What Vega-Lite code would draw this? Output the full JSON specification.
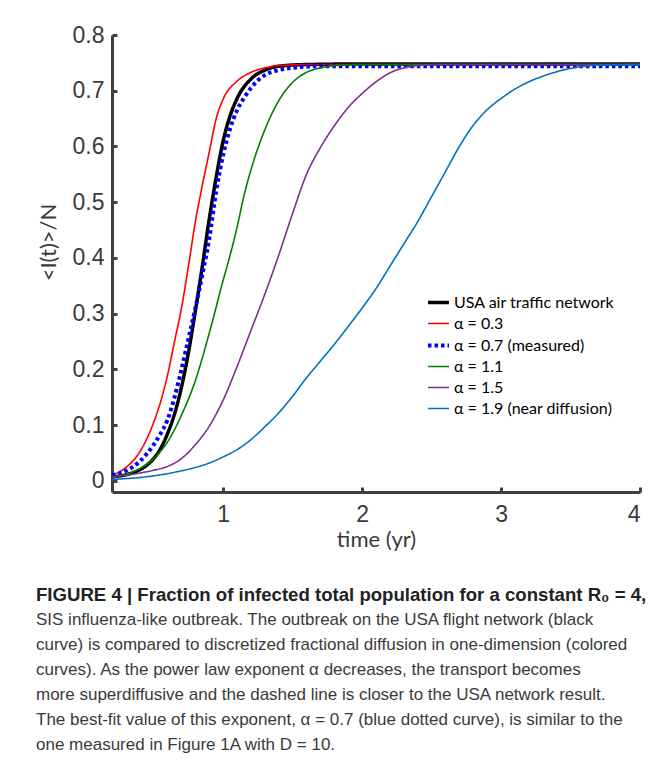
{
  "$schema": "https://vega.github.io/schema/vega-lite/v6.json",
  "width": 528,
  "height": 457,
  "autosize": {"type": "none"},
  "padding": {"left": 112, "top": 35, "right": 27, "bottom": 272},
  "background": "white",
  "config": {"view": {"stroke": null}},
  "title": {
    "text": "FIGURE 4 | Fraction of infected total population for a constant R₀ = 4,",
    "subtitle": [
      "SIS influenza-like outbreak. The outbreak on the USA flight network (black",
      "curve) is compared to discretized fractional diffusion in one-dimension (colored",
      "curves). As the power law exponent α decreases, the transport becomes",
      "more superdiffusive and the dashed line is closer to the USA network result.",
      "The best-fit value of this exponent, α = 0.7 (blue dotted curve), is similar to the",
      "one measured in Figure 1A with D = 10."
    ],
    "orient": "bottom",
    "anchor": "start",
    "frame": "group",
    "dx": -76,
    "offset": 36,
    "font": "Liberation Sans",
    "fontSize": 18.6,
    "fontWeight": "bold",
    "color": "#222222",
    "subtitleFont": "Liberation Sans",
    "subtitleFontSize": 17,
    "subtitleColor": "#3a3a3a",
    "subtitleLineHeight": 25,
    "subtitlePadding": 7
  },
  "data": {
    "values": [
      {"series": "USA air traffic network", "t": 0.2, "v": 0.007},
      {"series": "USA air traffic network", "t": 0.3, "v": 0.011},
      {"series": "USA air traffic network", "t": 0.4, "v": 0.02},
      {"series": "USA air traffic network", "t": 0.45, "v": 0.028},
      {"series": "USA air traffic network", "t": 0.5, "v": 0.04},
      {"series": "USA air traffic network", "t": 0.55, "v": 0.058},
      {"series": "USA air traffic network", "t": 0.6, "v": 0.085},
      {"series": "USA air traffic network", "t": 0.65, "v": 0.12},
      {"series": "USA air traffic network", "t": 0.7, "v": 0.168},
      {"series": "USA air traffic network", "t": 0.75, "v": 0.23},
      {"series": "USA air traffic network", "t": 0.8, "v": 0.305},
      {"series": "USA air traffic network", "t": 0.85, "v": 0.385},
      {"series": "USA air traffic network", "t": 0.9, "v": 0.47},
      {"series": "USA air traffic network", "t": 0.95, "v": 0.545},
      {"series": "USA air traffic network", "t": 1.0, "v": 0.61},
      {"series": "USA air traffic network", "t": 1.05, "v": 0.655},
      {"series": "USA air traffic network", "t": 1.1, "v": 0.686},
      {"series": "USA air traffic network", "t": 1.2, "v": 0.721},
      {"series": "USA air traffic network", "t": 1.3, "v": 0.737},
      {"series": "USA air traffic network", "t": 1.4, "v": 0.744},
      {"series": "USA air traffic network", "t": 1.6, "v": 0.747},
      {"series": "USA air traffic network", "t": 2.0, "v": 0.748},
      {"series": "USA air traffic network", "t": 3.0, "v": 0.748},
      {"series": "USA air traffic network", "t": 4.0, "v": 0.748},

      {"series": "α = 0.3", "t": 0.2, "v": 0.01},
      {"series": "α = 0.3", "t": 0.3, "v": 0.024},
      {"series": "α = 0.3", "t": 0.4, "v": 0.052},
      {"series": "α = 0.3", "t": 0.45, "v": 0.075},
      {"series": "α = 0.3", "t": 0.5, "v": 0.105},
      {"series": "α = 0.3", "t": 0.55, "v": 0.142},
      {"series": "α = 0.3", "t": 0.6, "v": 0.19},
      {"series": "α = 0.3", "t": 0.65, "v": 0.25},
      {"series": "α = 0.3", "t": 0.7, "v": 0.31},
      {"series": "α = 0.3", "t": 0.75, "v": 0.385},
      {"series": "α = 0.3", "t": 0.8, "v": 0.465},
      {"series": "α = 0.3", "t": 0.85, "v": 0.53},
      {"series": "α = 0.3", "t": 0.9, "v": 0.59},
      {"series": "α = 0.3", "t": 0.95, "v": 0.65},
      {"series": "α = 0.3", "t": 1.0, "v": 0.685},
      {"series": "α = 0.3", "t": 1.1, "v": 0.717},
      {"series": "α = 0.3", "t": 1.2, "v": 0.733},
      {"series": "α = 0.3", "t": 1.3, "v": 0.741},
      {"series": "α = 0.3", "t": 1.4, "v": 0.745},
      {"series": "α = 0.3", "t": 1.6, "v": 0.747},
      {"series": "α = 0.3", "t": 4.0, "v": 0.747},

      {"series": "α = 0.7 (measured)", "t": 0.2, "v": 0.01},
      {"series": "α = 0.7 (measured)", "t": 0.3, "v": 0.018},
      {"series": "α = 0.7 (measured)", "t": 0.4, "v": 0.035},
      {"series": "α = 0.7 (measured)", "t": 0.5, "v": 0.065},
      {"series": "α = 0.7 (measured)", "t": 0.55, "v": 0.085},
      {"series": "α = 0.7 (measured)", "t": 0.6, "v": 0.11},
      {"series": "α = 0.7 (measured)", "t": 0.65, "v": 0.15},
      {"series": "α = 0.7 (measured)", "t": 0.7, "v": 0.2},
      {"series": "α = 0.7 (measured)", "t": 0.75, "v": 0.255},
      {"series": "α = 0.7 (measured)", "t": 0.8, "v": 0.31},
      {"series": "α = 0.7 (measured)", "t": 0.85, "v": 0.37},
      {"series": "α = 0.7 (measured)", "t": 0.9, "v": 0.435},
      {"series": "α = 0.7 (measured)", "t": 0.95, "v": 0.52},
      {"series": "α = 0.7 (measured)", "t": 1.0, "v": 0.585},
      {"series": "α = 0.7 (measured)", "t": 1.05, "v": 0.632},
      {"series": "α = 0.7 (measured)", "t": 1.1, "v": 0.665},
      {"series": "α = 0.7 (measured)", "t": 1.15, "v": 0.687},
      {"series": "α = 0.7 (measured)", "t": 1.2, "v": 0.705},
      {"series": "α = 0.7 (measured)", "t": 1.3, "v": 0.728},
      {"series": "α = 0.7 (measured)", "t": 1.4, "v": 0.737},
      {"series": "α = 0.7 (measured)", "t": 1.5, "v": 0.741},
      {"series": "α = 0.7 (measured)", "t": 1.7, "v": 0.744},
      {"series": "α = 0.7 (measured)", "t": 4.0, "v": 0.744},

      {"series": "α = 1.1", "t": 0.2, "v": 0.007},
      {"series": "α = 1.1", "t": 0.3, "v": 0.012},
      {"series": "α = 1.1", "t": 0.4, "v": 0.022},
      {"series": "α = 1.1", "t": 0.5, "v": 0.04},
      {"series": "α = 1.1", "t": 0.6, "v": 0.07},
      {"series": "α = 1.1", "t": 0.7, "v": 0.118},
      {"series": "α = 1.1", "t": 0.8, "v": 0.18},
      {"series": "α = 1.1", "t": 0.9, "v": 0.265},
      {"series": "α = 1.1", "t": 1.0, "v": 0.36},
      {"series": "α = 1.1", "t": 1.05, "v": 0.405},
      {"series": "α = 1.1", "t": 1.1, "v": 0.455},
      {"series": "α = 1.1", "t": 1.15, "v": 0.512},
      {"series": "α = 1.1", "t": 1.2, "v": 0.558},
      {"series": "α = 1.1", "t": 1.3, "v": 0.63},
      {"series": "α = 1.1", "t": 1.4, "v": 0.682},
      {"series": "α = 1.1", "t": 1.5, "v": 0.715},
      {"series": "α = 1.1", "t": 1.6, "v": 0.733},
      {"series": "α = 1.1", "t": 1.7, "v": 0.741},
      {"series": "α = 1.1", "t": 1.8, "v": 0.745},
      {"series": "α = 1.1", "t": 2.0, "v": 0.747},
      {"series": "α = 1.1", "t": 4.0, "v": 0.747},

      {"series": "α = 1.5", "t": 0.2, "v": 0.006},
      {"series": "α = 1.5", "t": 0.3, "v": 0.01},
      {"series": "α = 1.5", "t": 0.4, "v": 0.014},
      {"series": "α = 1.5", "t": 0.5, "v": 0.019},
      {"series": "α = 1.5", "t": 0.6, "v": 0.026},
      {"series": "α = 1.5", "t": 0.7, "v": 0.04},
      {"series": "α = 1.5", "t": 0.8, "v": 0.065},
      {"series": "α = 1.5", "t": 0.9, "v": 0.098},
      {"series": "α = 1.5", "t": 1.0, "v": 0.145},
      {"series": "α = 1.5", "t": 1.1, "v": 0.205},
      {"series": "α = 1.5", "t": 1.2, "v": 0.27},
      {"series": "α = 1.5", "t": 1.3, "v": 0.335},
      {"series": "α = 1.5", "t": 1.4, "v": 0.405},
      {"series": "α = 1.5", "t": 1.5, "v": 0.48},
      {"series": "α = 1.5", "t": 1.6, "v": 0.55},
      {"series": "α = 1.5", "t": 1.7, "v": 0.598},
      {"series": "α = 1.5", "t": 1.8, "v": 0.637},
      {"series": "α = 1.5", "t": 1.9, "v": 0.67},
      {"series": "α = 1.5", "t": 2.0, "v": 0.695},
      {"series": "α = 1.5", "t": 2.1, "v": 0.716},
      {"series": "α = 1.5", "t": 2.2, "v": 0.732},
      {"series": "α = 1.5", "t": 2.3, "v": 0.741},
      {"series": "α = 1.5", "t": 2.4, "v": 0.745},
      {"series": "α = 1.5", "t": 2.5, "v": 0.747},
      {"series": "α = 1.5", "t": 4.0, "v": 0.747},

      {"series": "α = 1.9 (near diffusion)", "t": 0.2, "v": 0.0025},
      {"series": "α = 1.9 (near diffusion)", "t": 0.3, "v": 0.004},
      {"series": "α = 1.9 (near diffusion)", "t": 0.4, "v": 0.006},
      {"series": "α = 1.9 (near diffusion)", "t": 0.5, "v": 0.009},
      {"series": "α = 1.9 (near diffusion)", "t": 0.6, "v": 0.013},
      {"series": "α = 1.9 (near diffusion)", "t": 0.7, "v": 0.018},
      {"series": "α = 1.9 (near diffusion)", "t": 0.8, "v": 0.024},
      {"series": "α = 1.9 (near diffusion)", "t": 0.9, "v": 0.032},
      {"series": "α = 1.9 (near diffusion)", "t": 1.0, "v": 0.043},
      {"series": "α = 1.9 (near diffusion)", "t": 1.1, "v": 0.056},
      {"series": "α = 1.9 (near diffusion)", "t": 1.2, "v": 0.074},
      {"series": "α = 1.9 (near diffusion)", "t": 1.3, "v": 0.097},
      {"series": "α = 1.9 (near diffusion)", "t": 1.4, "v": 0.122},
      {"series": "α = 1.9 (near diffusion)", "t": 1.5, "v": 0.152},
      {"series": "α = 1.9 (near diffusion)", "t": 1.6, "v": 0.185},
      {"series": "α = 1.9 (near diffusion)", "t": 1.7, "v": 0.215},
      {"series": "α = 1.9 (near diffusion)", "t": 1.8, "v": 0.245},
      {"series": "α = 1.9 (near diffusion)", "t": 1.9, "v": 0.277},
      {"series": "α = 1.9 (near diffusion)", "t": 2.0, "v": 0.31},
      {"series": "α = 1.9 (near diffusion)", "t": 2.1, "v": 0.345},
      {"series": "α = 1.9 (near diffusion)", "t": 2.2, "v": 0.385},
      {"series": "α = 1.9 (near diffusion)", "t": 2.3, "v": 0.425},
      {"series": "α = 1.9 (near diffusion)", "t": 2.4, "v": 0.465},
      {"series": "α = 1.9 (near diffusion)", "t": 2.5, "v": 0.51},
      {"series": "α = 1.9 (near diffusion)", "t": 2.6, "v": 0.555},
      {"series": "α = 1.9 (near diffusion)", "t": 2.7, "v": 0.6},
      {"series": "α = 1.9 (near diffusion)", "t": 2.8, "v": 0.638},
      {"series": "α = 1.9 (near diffusion)", "t": 2.9, "v": 0.666},
      {"series": "α = 1.9 (near diffusion)", "t": 3.0, "v": 0.686},
      {"series": "α = 1.9 (near diffusion)", "t": 3.1, "v": 0.703},
      {"series": "α = 1.9 (near diffusion)", "t": 3.2, "v": 0.716},
      {"series": "α = 1.9 (near diffusion)", "t": 3.3, "v": 0.726},
      {"series": "α = 1.9 (near diffusion)", "t": 3.4, "v": 0.734},
      {"series": "α = 1.9 (near diffusion)", "t": 3.5, "v": 0.74},
      {"series": "α = 1.9 (near diffusion)", "t": 3.6, "v": 0.744},
      {"series": "α = 1.9 (near diffusion)", "t": 3.7, "v": 0.746},
      {"series": "α = 1.9 (near diffusion)", "t": 4.0, "v": 0.747}
    ]
  },
  "mark": {"type": "line", "interpolate": "monotone", "clip": true},
  "encoding": {
    "x": {
      "field": "t",
      "type": "quantitative",
      "scale": {"domain": [0.2, 4], "nice": false, "zero": false},
      "axis": {
        "title": "time (yr)",
        "values": [1, 2, 3, 4],
        "grid": false,
        "domainColor": "#404040",
        "domainWidth": 3,
        "tickColor": "#404040",
        "tickWidth": 3,
        "tickSize": -5,
        "labelPadding": 16,
        "labelFont": "Liberation Sans",
        "labelFontSize": 23,
        "labelColor": "#3a3a3a",
        "titleFont": "Lato",
        "titleFontSize": 22,
        "titleFontWeight": "normal",
        "titleColor": "#3a3a3a",
        "titlePadding": 3
      }
    },
    "y": {
      "field": "v",
      "type": "quantitative",
      "scale": {"domain": [-0.02, 0.8], "nice": false, "zero": false},
      "axis": {
        "title": "<I(t)>/N",
        "values": [0, 0.1, 0.2, 0.3, 0.4, 0.5, 0.6, 0.7, 0.8],
        "format": ".1~f",
        "grid": false,
        "domainColor": "#404040",
        "domainWidth": 3,
        "tickColor": "#404040",
        "tickWidth": 3,
        "tickSize": -5,
        "labelPadding": 13,
        "labelFont": "Liberation Sans",
        "labelFontSize": 23,
        "labelColor": "#3a3a3a",
        "titleFont": "Lato",
        "titleFontSize": 22,
        "titleFontWeight": "normal",
        "titleColor": "#3a3a3a",
        "titleX": -64,
        "titleY": 207,
        "titleBaseline": "middle",
        "titleAlign": "center"
      }
    },
    "color": {
      "field": "series",
      "type": "nominal",
      "scale": {
        "domain": ["USA air traffic network", "α = 0.3", "α = 0.7 (measured)", "α = 1.1", "α = 1.5", "α = 1.9 (near diffusion)"],
        "range": ["#000000", "#FF0000", "#0000FF", "#008000", "#7E2F8E", "#0072BD"]
      },
      "legend": {
        "title": null,
        "orient": "none",
        "legendX": 314,
        "legendY": 255,
        "padding": 0,
        "symbolType": "stroke",
        "symbolSize": 441,
        "rowPadding": 1,
        "labelFont": "Lato",
        "labelFontSize": 16,
        "labelColor": "#000000",
        "labelOffset": 3,
        "labelLimit": 300
      }
    },
    "strokeDash": {
      "field": "series",
      "type": "nominal",
      "scale": {
        "domain": ["USA air traffic network", "α = 0.3", "α = 0.7 (measured)", "α = 1.1", "α = 1.5", "α = 1.9 (near diffusion)"],
        "range": [[1, 0], [1, 0], [3.5, 3], [1, 0], [1, 0], [1, 0]]
      },
      "legend": null
    },
    "strokeWidth": {
      "field": "series",
      "type": "nominal",
      "scale": {
        "type": "ordinal",
        "domain": ["USA air traffic network", "α = 0.3", "α = 0.7 (measured)", "α = 1.1", "α = 1.5", "α = 1.9 (near diffusion)"],
        "range": [3.5, 1.6, 4, 1.6, 1.6, 1.6]
      },
      "legend": null
    }
  }
}
